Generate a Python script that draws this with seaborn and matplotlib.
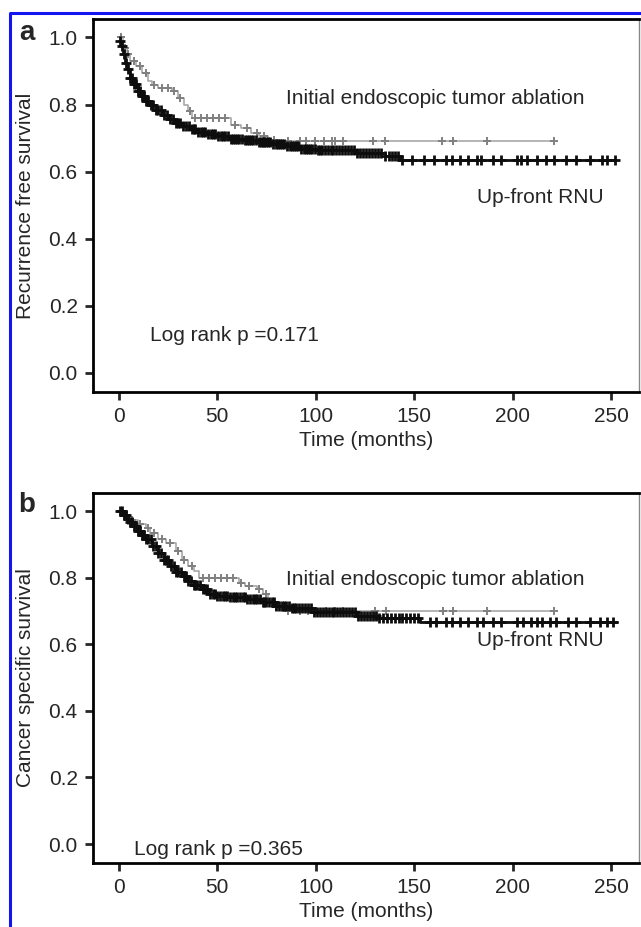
import numpy as np
import matplotlib
matplotlib.use("Agg")
import matplotlib.pyplot as plt
from matplotlib.lines import Line2D
import seaborn as sns

sns.set_style("ticks")
plt.rcParams["font.family"] = ["Liberation Sans", "DejaVu Sans"]

# ---- panel a: recurrence free survival (step knots) ----
a_ablation_t = [0, 2, 4, 6, 9, 12, 15, 17, 20, 27, 30, 33, 35, 37, 57, 62, 67, 71, 76, 83, 221]
a_ablation_s = [1.0, 0.97, 0.95, 0.93, 0.915, 0.895, 0.87, 0.857, 0.85, 0.84, 0.82, 0.80,
                0.78, 0.76, 0.74, 0.73, 0.716, 0.705, 0.695, 0.69, 0.69]
a_ablation_cens = [1, 3, 5, 8, 11, 14, 18, 22, 25, 28, 31, 36, 39, 42, 45, 48, 51, 54, 59,
                   65, 70, 74, 79, 86, 92, 95, 99.5, 104, 108, 110, 114, 129, 135, 164,
                   169.5, 187, 221]

a_rnu_t = [0, 1, 2, 3, 4, 6, 8, 10, 12, 14, 16, 19, 22, 25, 28, 32, 36, 40, 45, 50, 56,
           63, 70, 78, 85, 92, 100, 120, 135, 143, 252]
a_rnu_s = [0.99, 0.975, 0.95, 0.925, 0.905, 0.88, 0.86, 0.84, 0.825, 0.81, 0.80, 0.785,
           0.77, 0.757, 0.745, 0.735, 0.726, 0.718, 0.712, 0.705, 0.698, 0.693, 0.688,
           0.682, 0.676, 0.668, 0.663, 0.657, 0.648, 0.636, 0.636]
a_rnu_cens = [0.5, 1.5, 2.5, 3.5, 5, 6, 7, 8, 9, 10, 11, 12, 13, 14, 15, 16.5, 17.5, 19,
              20, 21.5, 23, 24.5, 26, 27.5, 29, 30, 31, 32.5, 34, 35.5, 37, 38, 39, 40.5,
              42, 43, 44, 45.5, 47, 48, 49, 50.5, 52, 53, 54, 55.5, 57, 58, 59, 60, 61,
              62.5, 64, 65, 66, 67, 68, 69.5, 71, 72, 73, 74, 75, 76, 77, 78.5, 80, 81,
              82, 83, 84, 85.5, 87, 88, 89, 90, 91, 92.5, 94, 95, 96, 97, 98, 99.5, 101,
              102, 103, 104.5, 106, 107.5, 109, 110.5, 112, 113.5, 115, 116.5, 118, 119.5,
              121, 122.5, 124, 125.5, 127, 128.5, 130, 131.5, 133, 135, 137, 138.5, 140,
              141.5, 144, 149, 155, 160, 166, 169, 173, 177, 182, 184, 190, 194, 202, 204,
              207, 212, 217, 221, 227, 232, 239, 245, 248, 252]

# ---- panel b: cancer specific survival ----
b_ablation_t = [0, 3, 6, 10, 14, 16, 20, 24, 29, 32, 35, 38, 41, 61, 64, 70, 73, 76, 79,
                83, 221]
b_ablation_s = [1.0, 0.985, 0.975, 0.962, 0.95, 0.935, 0.918, 0.905, 0.88, 0.855, 0.835,
                0.82, 0.80, 0.785, 0.775, 0.765, 0.75, 0.73, 0.712, 0.70, 0.70]
b_ablation_cens = [1, 4, 7, 11, 15, 18, 22, 26, 30, 33, 37, 43, 46, 49, 52, 55, 58, 62,
                   66, 71, 75, 80, 86, 92, 96, 100, 105, 110, 114, 130, 135.5, 164.5,
                   169.5, 187, 221]

b_rnu_t = [0, 2, 4, 6, 8, 10, 12, 14, 17, 20, 23, 26, 29, 32, 35, 38, 42, 46, 50, 56, 65,
           73, 80, 88, 98, 121, 132, 153, 253]
b_rnu_s = [1.0, 0.99, 0.978, 0.967, 0.955, 0.942, 0.928, 0.916, 0.895, 0.874, 0.853,
           0.835, 0.818, 0.805, 0.79, 0.778, 0.765, 0.752, 0.745, 0.742, 0.736, 0.727,
           0.716, 0.708, 0.697, 0.685, 0.68, 0.667, 0.667]
b_rnu_cens = [0.5, 1.5, 2.5, 3.5, 5, 6, 7, 8, 9, 10, 11, 12, 13, 14, 15, 16.5, 17.5, 19,
              20, 21.5, 23, 24, 25, 26.5, 28, 29, 30, 31.5, 33, 34, 35, 36.5, 38, 39,
              40, 41.5, 43, 44, 45, 46.5, 48, 49, 50, 51.5, 53, 54, 55, 56.5, 58, 59, 60,
              61.5, 63, 64, 65, 66.5, 68, 69, 70, 71.5, 73, 74, 75, 76.5, 78, 79, 80,
              81.5, 83, 84, 85, 86.5, 88, 89, 90, 91.5, 93, 94.5, 96, 97.5, 99, 100.5,
              102, 103.5, 105, 106.5, 108, 109.5, 111, 112.5, 114, 115.5, 117, 118.5,
              120, 121.5, 123, 124.5, 126, 127.5, 129, 130.5, 132, 134, 136, 138, 140,
              142, 144, 146, 148, 150, 152, 158, 161, 166, 169, 173, 177, 182, 185, 190,
              194, 202, 205, 209, 212, 215, 219, 222, 228, 232, 239, 244, 248, 251]

x_ticks = [0, 50, 100, 150, 200, 250]
y_ticks = [0.0, 0.2, 0.4, 0.6, 0.8, 1.0]

GRAY_LINE = "#a0a0a0"
GRAY_MARK = "#808080"
BLACK = "#0d0d0d"
FS = 15


def surv_at(times, surv, t):
    times = np.asarray(times)
    idx = np.searchsorted(times, t, side="right") - 1
    return np.asarray(surv)[idx]


def draw_curve(ax, t, s, cens, line_color, mark_color, lw, mew, size):
    sns.lineplot(x=t, y=s, drawstyle="steps-post", estimator=None, color=line_color,
                 linewidth=lw, ax=ax, legend=False)
    cy = surv_at(t, s, np.asarray(cens))
    sns.scatterplot(x=cens, y=cy, marker="+", s=size, color=mark_color,
                    linewidth=mew, ax=ax, legend=False, zorder=3)


def style_axes(ax, ylabel):
    ax.set_xlim(-13, 264)
    ax.set_ylim(-0.057, 1.055)
    ax.set_xticks(x_ticks)
    ax.set_yticks(y_ticks)
    ax.set_yticklabels([f"{v:.1f}" for v in y_ticks])
    ax.tick_params(axis="both", direction="out", length=6, width=2, labelsize=FS, pad=5)
    for side in ["left", "bottom", "top"]:
        ax.spines[side].set_linewidth(2)
        ax.spines[side].set_color("black")
    ax.spines["right"].set_linewidth(1)
    ax.spines["right"].set_color("#888888")
    ax.set_xlabel("Time (months)", fontsize=FS)
    ax.set_ylabel(ylabel, fontsize=FS)
    ax.xaxis.set_label_coords(0.5, -0.105)
    ax.yaxis.set_label_coords(-0.107, 0.5)


fig = plt.figure(figsize=(6.41, 9.27), dpi=100)
ax_a = fig.add_axes([93 / 641, 1 - 392 / 927, 546 / 641, 373 / 927])
ax_b = fig.add_axes([93 / 641, 1 - 863 / 927, 546 / 641, 370 / 927])

# panel a
draw_curve(ax_a, a_ablation_t, a_ablation_s, a_ablation_cens, GRAY_LINE, GRAY_MARK, 1.1, 1.4, 35)
draw_curve(ax_a, a_rnu_t, a_rnu_s, a_rnu_cens, BLACK, BLACK, 2.0, 2.0, 45)
style_axes(ax_a, "Recurrence free survival")
ax_a.text(85, 0.818, "Initial endoscopic tumor ablation", fontsize=FS, va="center")
ax_a.text(182, 0.522, "Up-front RNU", fontsize=FS, va="center")
ax_a.text(16, 0.11, "Log rank p =0.171", fontsize=FS, va="center")

# panel b
draw_curve(ax_b, b_ablation_t, b_ablation_s, b_ablation_cens, GRAY_LINE, GRAY_MARK, 1.1, 1.4, 35)
draw_curve(ax_b, b_rnu_t, b_rnu_s, b_rnu_cens, BLACK, BLACK, 2.0, 2.0, 45)
style_axes(ax_b, "Cancer specific survival")
ax_b.text(85, 0.796, "Initial endoscopic tumor ablation", fontsize=FS, va="center")
ax_b.text(182, 0.612, "Up-front RNU", fontsize=FS, va="center")
ax_b.text(8, -0.015, "Log rank p =0.365", fontsize=FS, va="center")

# panel letters
fig.text(27 / 641, 1 - 33 / 927, "a", fontsize=20, fontweight="bold", ha="center", va="center")
fig.text(27 / 641, 1 - 505 / 927, "b", fontsize=20, fontweight="bold", ha="center", va="center")

# blue frame (left and top edges)
fig.add_artist(Line2D([10 / 641, 10 / 641, 1.0], [0.0, 1 - 13 / 927, 1 - 13 / 927],
                      transform=fig.transFigure, color="#1414f0", linewidth=2.2))

fig.savefig("out.png", dpi=100)
